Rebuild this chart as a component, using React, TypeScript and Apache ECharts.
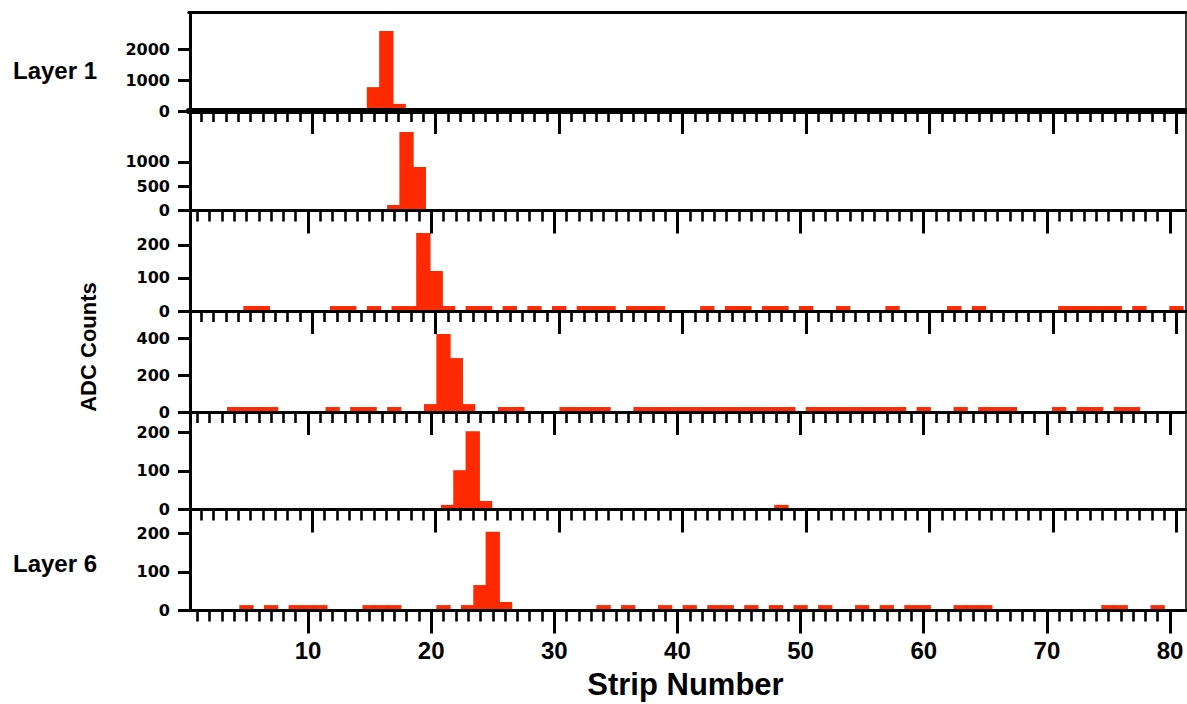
import React, { useEffect, useRef } from "react";
import * as echarts from "echarts";

// ---------- data ----------
const layerLabels = ["Layer 1", "Layer 6"];
const yAxisTitle = "ADC Counts";
const xAxisTitle = "Strip Number";
const xTickLabels = [10, 20, 30, 40, 50, 60, 70, 80];

const layer1Strips = [15, 16, 17];
const layer1Counts = [770, 2580, 230];

const layer2Strips = [17, 18, 19];
const layer2Counts = [113, 1612, 893];

const layer3Strips = [5, 6, 12, 13, 15, 17, 18, 19, 20, 21, 23, 24, 26, 28, 30, 32, 33, 34, 36, 37, 38, 42, 44, 45, 47, 48, 50, 53, 57, 62, 64, 71, 72, 73, 74, 75, 77, 80];
const layer3Counts = [15, 15, 15, 15, 15, 15, 15, 236, 121, 15, 15, 15, 15, 15, 15, 15, 15, 15, 15, 15, 15, 15, 15, 15, 15, 15, 15, 15, 15, 15, 15, 15, 15, 15, 15, 15, 15, 15];

const layer4Strips = [4, 5, 6, 7, 12, 14, 15, 17, 20, 21, 22, 23, 26, 27, 31, 32, 33, 34, 37, 38, 39, 40, 41, 42, 43, 44, 45, 46, 47, 48, 49, 51, 52, 53, 54, 55, 56, 57, 58, 60, 63, 65, 66, 67, 71, 73, 74, 76, 77];
const layer4Counts = [27, 27, 27, 27, 27, 27, 27, 27, 43, 424, 293, 43, 27, 27, 27, 27, 27, 27, 27, 27, 27, 27, 27, 27, 27, 27, 27, 27, 27, 27, 27, 27, 27, 27, 27, 27, 27, 27, 27, 27, 27, 27, 27, 27, 27, 27, 27, 27, 27];

const layer5Strips = [21, 22, 23, 24, 48];
const layer5Counts = [12, 102, 203, 22, 12];

const layer6Strips = [5, 7, 9, 10, 11, 15, 16, 17, 21, 23, 24, 25, 26, 34, 36, 39, 41, 43, 44, 46, 48, 50, 52, 55, 57, 59, 60, 63, 64, 65, 75, 76, 79];
const layer6Counts = [14, 14, 14, 14, 14, 14, 14, 14, 14, 14, 66, 204, 22, 14, 14, 14, 14, 14, 14, 14, 14, 14, 14, 14, 14, 14, 14, 14, 14, 14, 14, 14, 14];

const yTicks1 = [0, 1000, 2000];
const yTicks2 = [0, 500, 1000];
const yTicks3 = [0, 100, 200];
const yTicks4 = [0, 200, 400];
const yTicks5 = [0, 100, 200];
const yTicks6 = [0, 100, 200];
const yMaxima = [3171, 2043, 304, 549, 253, 262];

const stripsByLayer = [layer1Strips, layer2Strips, layer3Strips, layer4Strips, layer5Strips, layer6Strips];
const countsByLayer = [layer1Counts, layer2Counts, layer3Counts, layer4Counts, layer5Counts, layer6Counts];
const yTicksByLayer = [yTicks1, yTicks2, yTicks3, yTicks4, yTicks5, yTicks6];

// ---------- layout ----------
const RED = "#ff2a00";
const FONT = "'Liberation Sans', Arial, sans-serif";
const YFONT = "'DejaVu Sans', sans-serif";
const TOP = 12.7;
const BASE = [111, 210.5, 311, 412, 509.5, 610.5];
const ORIGIN = [188.8, 184.9, 188.8, 184.9, 188.8, 184.9];
const PXSTRIP = [12.346, 12.314, 12.346, 12.314, 12.346, 12.314];
const RIGHT = 1186;
const FRAME_X = 190;

const minorTicks: number[] = [];
for (let s = 1; s <= 79; s++) if (s % 10 !== 0) minorTicks.push(s);

export default function App() {
  const ref = useRef<HTMLDivElement>(null);
  useEffect(() => {
    if (!ref.current) return;
    const chart = echarts.init(ref.current, null, { renderer: "svg" });
    const grid: any[] = [];
    const xAxis: any[] = [];
    const yAxis: any[] = [];
    const series: any[] = [];
    for (let i = 0; i < 6; i++) {
      const top = i === 0 ? TOP : BASE[i - 1];
      const width = RIGHT - ORIGIN[i];
      const height = BASE[i] - top;
      grid.push({ left: ORIGIN[i], top, width, height });
      const xMax = width / PXSTRIP[i];
      const last = i === 5;
      const mainIdx = xAxis.length;
      xAxis.push({
        type: "value", gridIndex: i, min: 0, max: xMax, position: "bottom", z: 5,
        axisLine: { show: true, onZero: false, lineStyle: { color: "#000", width: i === 0 ? 6 : 3 } },
        axisTick: { show: true, customValues: xTickLabels, length: 23, lineStyle: { color: "#000", width: 3 } },
        axisLabel: last
          ? { show: true, customValues: xTickLabels, margin: 28, color: "#000", fontSize: 24, fontWeight: "bold", fontFamily: FONT, formatter: (v: number) => String(v) }
          : { show: false },
        splitLine: { show: false },
        name: last ? xAxisTitle : "",
        nameLocation: "middle",
        nameGap: 58,
        nameTextStyle: { color: "#000", fontSize: 31, fontWeight: "bold", fontFamily: FONT },
      });
      xAxis.push({
        type: "value", gridIndex: i, min: 0, max: xMax, position: "bottom", z: 5,
        axisLine: { show: false, onZero: false },
        axisTick: { show: true, customValues: minorTicks, length: 11, lineStyle: { color: "#000", width: 2.6 } },
        axisLabel: { show: false },
        splitLine: { show: false },
      });
      if (i === 0) {
        xAxis.push({
          type: "value", gridIndex: i, min: 0, max: xMax, position: "top", z: 5,
          axisLine: { show: true, onZero: false, lineStyle: { color: "#000", width: 3 } },
          axisTick: { show: false }, axisLabel: { show: false }, splitLine: { show: false },
        });
      }
      const yIdx = yAxis.length;
      yAxis.push({
        type: "value", gridIndex: i, min: 0, max: yMaxima[i], position: "left",
        offset: -(FRAME_X - ORIGIN[i]), z: 5,
        axisLine: { show: true, onZero: false, lineStyle: { color: "#000", width: 3 } },
        axisTick: { show: true, customValues: yTicksByLayer[i], length: 12, lineStyle: { color: "#000", width: 3 } },
        axisLabel: { show: true, customValues: yTicksByLayer[i], margin: 20, color: "#000", fontSize: 16, fontWeight: "bold", fontFamily: YFONT, formatter: (v: number) => String(v) },
        splitLine: { show: false },
      });
      yAxis.push({
        type: "value", gridIndex: i, min: 0, max: yMaxima[i], position: "right", z: 5,
        axisLine: { show: true, onZero: false, lineStyle: { color: "#000", width: 1.5 } },
        axisTick: { show: false }, axisLabel: { show: false }, splitLine: { show: false },
      });
      const strips = stripsByLayer[i];
      const counts = countsByLayer[i];
      series.push({
        type: "custom",
        xAxisIndex: mainIdx,
        yAxisIndex: yIdx,
        data: strips.map((s, j) => [s, counts[j]]),
        renderItem: (params: any, api: any) => {
          const x = api.value(0);
          const v = api.value(1);
          const p0 = api.coord([x - 0.5, v]);
          const p1 = api.coord([x + 0.5, 0]);
          return {
            type: "rect",
            shape: { x: p0[0] - 1, y: p0[1], width: p1[0] - p0[0] + 2, height: p1[1] - p0[1] },
            style: { fill: RED },
          };
        },
      });
    }
    chart.setOption({
      animation: false,
      backgroundColor: "#fff",
      grid, xAxis, yAxis, series,
      graphic: [
        { type: "text", x: 13, y: 70, style: { text: layerLabels[0], fill: "#000", font: `bold 24px ${FONT}`, textAlign: "left", textVerticalAlign: "middle" } },
        { type: "text", x: 13, y: 563, style: { text: layerLabels[1], fill: "#000", font: `bold 24px ${FONT}`, textAlign: "left", textVerticalAlign: "middle" } },
        { type: "text", x: 88, y: 347, rotation: Math.PI / 2, style: { text: yAxisTitle, fill: "#000", font: `bold 22px ${FONT}`, textAlign: "center", textVerticalAlign: "middle" } },
      ],
    });
    return () => chart.dispose();
  }, []);
  return <div ref={ref} style={{ position: "absolute", left: 0, top: 0, width: 1187, height: 704 }} />;
}
